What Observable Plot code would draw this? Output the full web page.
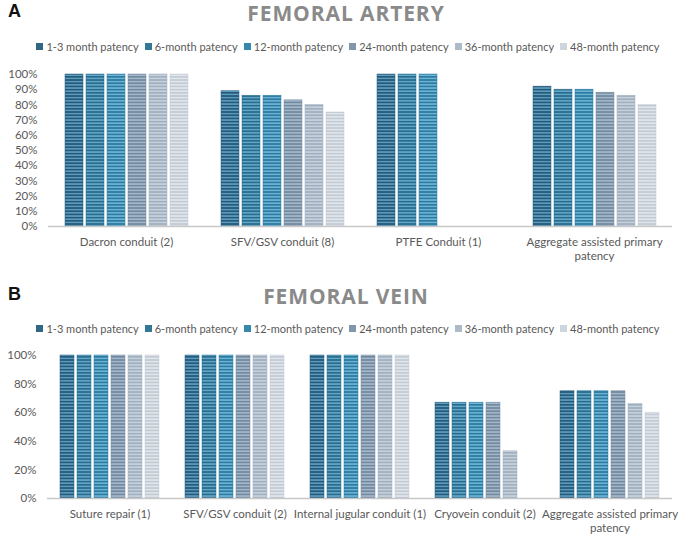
<!DOCTYPE html>
<html>
<head>
<meta charset="utf-8">
<script src="https://cdn.jsdelivr.net/npm/d3@7"></script>
<script src="https://cdn.jsdelivr.net/npm/@observablehq/plot@0.6"></script>
<style>
  html, body { margin: 0; padding: 0; background: #fff; }
  #root { position: relative; width: 680px; height: 536px; overflow: hidden; font-family: Lato, "Open Sans", sans-serif; }
  .panel { position: absolute; left: 0; width: 680px; }
  .letter { position: absolute; left: 8px; font-family: "Liberation Sans", Arial, sans-serif; font-weight: 700; font-size: 18px; color: #111; }
  .title { position: absolute; left: 6px; width: 680px; text-align: center; font-family: "Open Sans", sans-serif; font-weight: 700; font-size: 21px; letter-spacing: 0.9px; color: #8a8a8a; }
  .legend { position: absolute; left: 8px; width: 680px; display: flex; justify-content: center; gap: 6px; font-family: Lato, sans-serif; font-size: 11px; color: #595959; }
  .legend .item { display: flex; align-items: center; gap: 3px; white-space: nowrap; }
  .legend .sw { width: 7px; height: 7px; display: inline-block; }
  .chart { position: absolute; left: 0; }
</style>
</head>
<body>
<div id="root"></div>
<script>
// ---- data ----
const seriesNames = ["1-3 month patency", "6-month patency", "12-month patency", "24-month patency", "36-month patency", "48-month patency"];

const arteryCategories = ["Dacron conduit (2)", "SFV/GSV conduit (8)", "PTFE Conduit (1)", "Aggregate assisted primary patency"];
const arteryValues = [
  [100, 100, 100, 100, 100, 100],
  [89, 86, 86, 83, 80, 75],
  [100, 100, 100, null, null, null],
  [92, 90, 90, 88, 86, 80]
];
const arteryTicks = [0, 10, 20, 30, 40, 50, 60, 70, 80, 90, 100];

const veinCategories = ["Suture repair (1)", "SFV/GSV conduit (2)", "Internal jugular conduit (1)", "Cryovein conduit (2)", "Aggregate assisted primary patency"];
const veinValues = [
  [100, 100, 100, 100, 100, 100],
  [100, 100, 100, 100, 100, 100],
  [100, 100, 100, 100, 100, 100],
  [67, 67, 67, 67, 33, null],
  [75, 75, 75, 75, 66, 60]
];
const veinTicks = [0, 20, 40, 60, 80, 100];

// stripe colours per series: [dark stripe, light stripe, swatch]
const stripeDark  = ["#24597a", "#286b8d", "#2c7aa0", "#7189a0", "#9fafbf", "#c2cad4"];
const stripeLight = ["#5f9fc0", "#66aacb", "#6fb7d7", "#a8bacb", "#c9d3dd", "#e3e7ec"];
const swatchColors = ["#2f6683", "#327896", "#3788ad", "#8097ad", "#adbac8", "#cfd5dd"];

// ---- patterns ----
const defsSvg = d3.select("body").append("svg").attr("width", 0).attr("height", 0).style("position", "absolute");
const defs = defsSvg.append("defs");
const patternIds = seriesNames.map((_, i) => "stripe" + i);
patternIds.forEach((id, i) => {
  const p = defs.append("pattern").attr("id", id).attr("patternUnits", "userSpaceOnUse")
    .attr("width", 6).attr("height", 3.2);
  p.append("rect").attr("width", 6).attr("height", 3.2).attr("fill", stripeLight[i]);
  p.append("rect").attr("width", 6).attr("height", 1.7).attr("fill", stripeDark[i]);
});
const patternUrls = patternIds.map(id => `url(#${id})`);

function toRows(categories, values) {
  const rows = [];
  categories.forEach((c, ci) => {
    seriesNames.forEach((s, si) => {
      const v = values[ci][si];
      if (v != null) rows.push({category: c, series: s, value: v});
    });
  });
  return rows;
}

function wrap(label, maxChars) {
  if (label.length <= maxChars) return label;
  const cut = label.lastIndexOf(" ", maxChars);
  return label.slice(0, cut) + "\n" + label.slice(cut + 1);
}

function makeChart({categories, values, ticks, height, marginLeft, marginTop, marginBottom}) {
  const rows = toRows(categories, values);
  return Plot.plot({
    width: 680,
    height,
    marginLeft,
    marginRight: 7,
    marginTop,
    marginBottom,
    style: {fontFamily: "Lato, 'Open Sans', sans-serif", fontSize: "11.5px", color: "#595959", background: "transparent"},
    fx: {domain: categories, padding: 0, label: null},
    x: {domain: seriesNames, paddingInner: 0.16, paddingOuter: 0.7, axis: null},
    y: {domain: [0, 100], label: null},
    color: {domain: seriesNames, range: patternUrls},
    marks: [
      Plot.barY(rows, {fx: "category", x: "series", y: "value", fill: "series",
        stroke: d => stripeDark[seriesNames.indexOf(d.series)], strokeWidth: 0.6, strokeOpacity: 0.8}),
      Plot.ruleY([0], {stroke: "#c8c8c8", strokeWidth: 1.6}),
      Plot.axisY({ticks, tickSize: 0, tickPadding: 11, tickFormat: d => d + "%", label: null, fill: "#595959"}),
      Plot.axisFx({anchor: "bottom", tickSize: 0, tickPadding: 9, label: null, lineHeight: 1.25,
        tickFormat: d => wrap(d, 30), fill: "#595959"})
    ]
  });
}

function legend() {
  const div = document.createElement("div");
  div.className = "legend";
  seriesNames.forEach((s, i) => {
    const item = document.createElement("span");
    item.className = "item";
    const sw = document.createElement("span");
    sw.className = "sw";
    sw.style.background = swatchColors[i];
    item.appendChild(sw);
    item.appendChild(document.createTextNode(s));
    div.appendChild(item);
  });
  return div;
}

function panel({top, height, letter, title, titleTop, legendTop, chartTop, chart}) {
  const p = document.createElement("div");
  p.className = "panel";
  p.style.top = top + "px";
  p.style.height = height + "px";
  const l = document.createElement("div");
  l.className = "letter"; l.textContent = letter; l.style.top = (titleTop + 2) + "px";
  const t = document.createElement("div");
  t.className = "title"; t.textContent = title; t.style.top = titleTop + "px";
  const lg = legend(); lg.style.top = legendTop + "px";
  const c = document.createElement("div");
  c.className = "chart"; c.style.top = chartTop + "px";
  c.appendChild(chart);
  p.append(l, t, lg, c);
  return p;
}

const root = document.getElementById("root");
root.appendChild(panel({
  top: 0, height: 270, letter: "A", title: "FEMORAL ARTERY",
  titleTop: -1, legendTop: 40, chartTop: 60,
  chart: makeChart({categories: arteryCategories, values: arteryValues, ticks: arteryTicks,
    height: 210, marginLeft: 47, marginTop: 14, marginBottom: 44})
}));
root.appendChild(panel({
  top: 270, height: 266, letter: "B", title: "FEMORAL VEIN",
  titleTop: 12, legendTop: 52, chartTop: 70,
  chart: makeChart({categories: veinCategories, values: veinValues, ticks: veinTicks,
    height: 196, marginLeft: 45, marginTop: 15, marginBottom: 38})
}));
</script>
</body>
</html>
